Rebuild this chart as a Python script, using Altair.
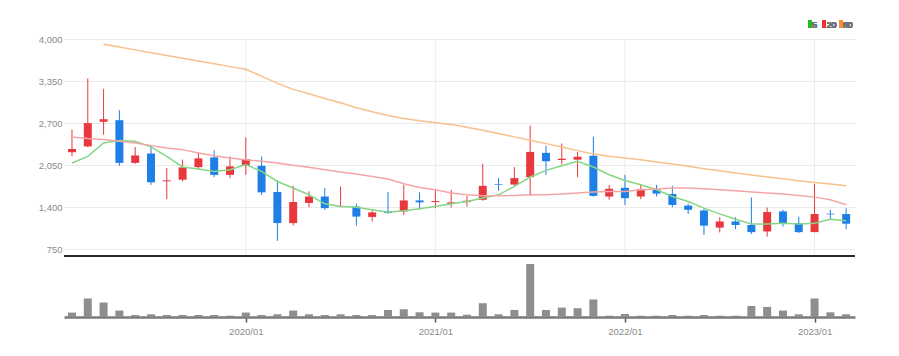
import altair as alt
import pandas as pd

months = [f"{y}/{m:02d}" for y in range(2019, 2024) for m in range(1, 13)][1:51]

opens = [2250, 2340, 2720, 2745, 2085, 2230, 1800, 1825, 2020, 2170, 1900, 2045, 2040, 1635, 1155, 1465, 1565, 1415, 1410, 1250,
         1335, 1335, 1505, 1480, 1450, 1480, 1515, 1755, 1750, 1865, 2240, 2130, 2135, 2195, 1565, 1700, 1565, 1670, 1605, 1425,
         1350, 1085, 1180, 1125, 1025, 1335, 1155, 1015, 1300, 1295]
closes = [2300, 2700, 2760, 2085, 2200, 1785, 1815, 2015, 2155, 1900, 2030, 2145, 1630, 1155, 1480, 1565, 1385, 1420, 1255, 1320,
          1310, 1505, 1475, 1495, 1475, 1500, 1730, 1745, 1850, 2255, 2110, 2150, 2180, 1575, 1685, 1540, 1680, 1610, 1435, 1360,
          1115, 1180, 1125, 1015, 1325, 1155, 1015, 1295, 1290, 1145]
highs = [2600, 3390, 3230, 2900, 2330, 2360, 2005, 2135, 2250, 2280, 2185, 2480, 2185, 1815, 1730, 1645, 1695, 1720, 1455, 1350,
         1635, 1745, 1630, 1670, 1670, 1575, 2075, 1850, 2020, 2660, 2350, 2385, 2250, 2490, 1745, 1900, 1745, 1745, 1730, 1455,
         1375, 1245, 1245, 1550, 1395, 1360, 1255, 1760, 1360, 1385]
lows = [2190, 2330, 2520, 2040, 2070, 1745, 1525, 1800, 1980, 1865, 1850, 1900, 1590, 880, 1115, 1400, 1360, 1400, 1115, 1180,
        1295, 1280, 1360, 1385, 1395, 1410, 1500, 1655, 1730, 1575, 1900, 2060, 1865, 1565, 1515, 1435, 1525, 1565, 1400, 1295,
        970, 1010, 1060, 985, 945, 1100, 1000, 1015, 1205, 1060]
ma5 = [2084, 2186, 2394, 2430, 2419, 2332, 2186, 2022, 1991, 1954, 1980, 2058, 1954, 1798, 1696, 1592, 1453, 1411, 1401, 1360,
       1324, 1344, 1375, 1411, 1453, 1488, 1541, 1592, 1721, 1867, 1969, 2042, 2109, 2022, 1902, 1814, 1747, 1670, 1566, 1488,
       1386, 1297, 1215, 1142, 1142, 1153, 1142, 1153, 1215, 1189]
ma20 = [2487, 2461, 2445, 2419, 2394, 2352, 2316, 2290, 2239, 2197, 2161, 2135, 2109, 2084, 2047, 2016, 1980, 1944, 1913, 1876,
        1836, 1763, 1706, 1670, 1619, 1592, 1577, 1577, 1582, 1592, 1592, 1603, 1619, 1634, 1643, 1643, 1670, 1680, 1696, 1696,
        1685, 1670, 1654, 1634, 1619, 1603, 1582, 1556, 1514, 1437]
ma60 = [None, None, 3919, 3875, 3832, 3788, 3746, 3703, 3660, 3616, 3573, 3531, 3427, 3314, 3221, 3154, 3081, 3014, 2937, 2875,
        2817, 2771, 2735, 2704, 2678, 2636, 2590, 2538, 2487, 2434, 2383, 2332, 2275, 2223, 2186, 2161, 2135, 2099, 2068, 2032,
        1996, 1964, 1929, 1898, 1867, 1840, 1809, 1783, 1758, 1732]
volumes = [44, 184, 144, 64, 20, 27, 20, 20, 20, 20, 13, 44, 20, 27, 64, 27, 20, 27, 20, 20,
           70, 77, 47, 44, 44, 23, 137, 27, 70, 527, 70, 93, 87, 174, 13, 30, 13, 13, 20, 13,
           20, 13, 13, 110, 100, 64, 27, 184, 47, 27]
price_ticks = [750, 1400, 2050, 2700, 3350, 4000]
legend_names = ["5", "20", "60"]
legend_colors = ["#22bb22", "#ee3333", "#f5912e"]
line_colors = ["#86d686", "#f4a6a6", "#f7c08c"]

W, H = 791, 278
PRICE_H = 217
FONT = "'Liberation Sans Narrow', 'Liberation Sans', sans-serif"

df = pd.DataFrame({
    "i": list(range(len(months))), "month": months,
    "open": opens, "close": closes, "high": highs, "low": lows,
    "ma5": ma5, "ma20": ma20, "ma60": ma60, "vol": volumes,
})
df["dir"] = ["up" if c >= o else "down" for o, c in zip(opens, closes)]

tick_idx = [i for i, m in enumerate(months) if m.endswith("/01")]
label_expr = " : ".join(f"datum.value == {i} ? '{months[i]}'" for i in tick_idx) + " : ''"

x_enc = alt.X("i:Q", title=None,
              scale=alt.Scale(domain=[-0.506, 49.56], nice=False, zero=False, padding=0),
              axis=alt.Axis(values=tick_idx, labelExpr=label_expr, grid=False,
                            domainColor="#7a7a7a", domainWidth=2.5,
                            tickColor="#555555", tickSize=5, tickWidth=1.5,
                            labelColor="#8a8a8a", labelFontSize=9.5, labelFont=FONT,
                            labelPadding=4))

price_scale = alt.Scale(domain=[646, 4000], range=[PRICE_H, 0], nice=False, zero=False)
color_scale = alt.Scale(domain=["up", "down"], range=["#e8383d", "#1e7fe6"])

base = alt.Chart(df)

wicks = base.mark_rule(strokeWidth=1).encode(
    x=x_enc,
    y=alt.Y("low:Q", scale=price_scale, title=None,
            axis=alt.Axis(values=price_ticks, format=",.0f", domain=False, ticks=False,
                          grid=True, gridColor="#ebebeb", gridWidth=1,
                          labelColor="#8a8a8a", labelFontSize=9.5, labelFont=FONT,
                          labelPadding=2)),
    y2="high:Q",
    color=alt.Color("dir:N", scale=color_scale, legend=None),
)
bodies = base.mark_bar(size=8).encode(
    x=x_enc,
    y=alt.Y("open:Q", scale=price_scale, axis=None),
    y2="close:Q",
    color=alt.Color("dir:N", scale=color_scale, legend=None),
)

year_rules = alt.Chart(pd.DataFrame({"i": tick_idx})).mark_rule(color="#ededed", strokeWidth=1).encode(
    x=x_enc, y=alt.value(0), y2=alt.value(PRICE_H))

ma_layers = []
for col, c in zip(["ma5", "ma20", "ma60"], line_colors):
    ma_layers.append(base.mark_line(strokeWidth=1.5, color=c).encode(
        x=x_enc, y=alt.Y(f"{col}:Q", scale=price_scale, axis=None)))

vol = base.mark_bar(size=8, color="#8e8e8e").encode(
    x=x_enc,
    y=alt.Y("vol:Q", scale=alt.Scale(domain=[0, max(volumes)], range=[H, 225], nice=False), axis=None),
)

sep = alt.Chart(df).mark_rule(color="#2a2a2a", strokeWidth=2).encode(
    x=alt.value(0), x2=alt.value(W), y=alt.value(PRICE_H))

legend_layers = []
lx = [744.3, 758.7, 775.0]
for name, c, x0 in zip(legend_names, legend_colors, lx):
    legend_layers.append(alt.Chart(df).mark_rect(color=c).encode(
        x=alt.value(x0), x2=alt.value(x0 + 3.2), y=alt.value(-18.3), y2=alt.value(-11.5)))
    legend_layers.append(alt.Chart(df).mark_text(align="left", baseline="alphabetic", fontSize=8.5,
                                                 font=FONT, color="#707070", text=name).encode(
        x=alt.value(x0 + 4.0), y=alt.value(-11.5)))

chart = alt.layer(year_rules, wicks, bodies, *ma_layers, vol, sep, *legend_layers).resolve_scale(
    y="independent"
).properties(
    width=W, height=H,
    padding={"left": 56, "top": 31, "right": 30, "bottom": 25},
    autosize=alt.AutoSizeParams(type="none"),
).configure(font=FONT).configure_view(stroke=None, strokeWidth=0)

chart.save("out.html", embed_options={"renderer": "svg", "actions": False})
